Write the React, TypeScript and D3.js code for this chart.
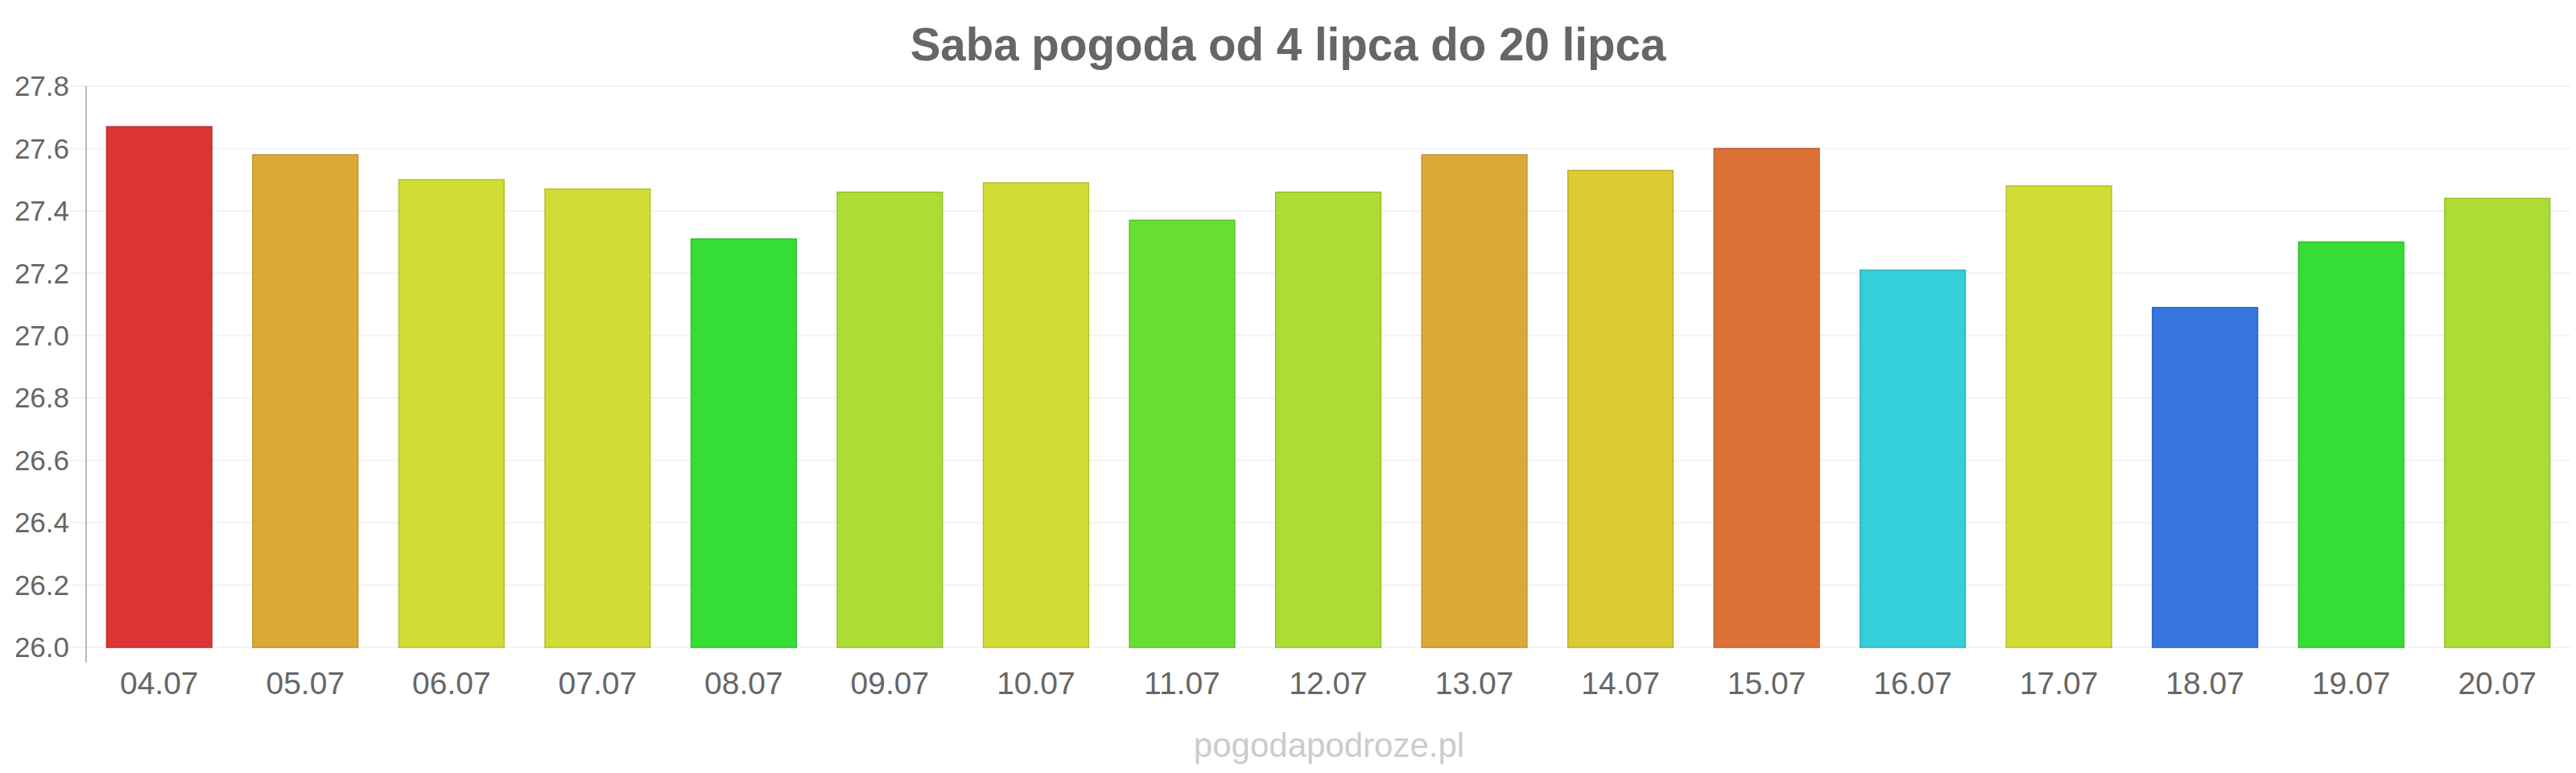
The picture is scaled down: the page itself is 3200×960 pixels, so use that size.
import React, { useEffect, useRef } from 'react';
import * as d3 from 'd3';

const days = ['04.07', '05.07', '06.07', '07.07', '08.07', '09.07', '10.07', '11.07', '12.07',
    '13.07', '14.07', '15.07', '16.07', '17.07', '18.07', '19.07', '20.07'];
const temps = [27.67, 27.58, 27.5, 27.47, 27.31, 27.46, 27.49, 27.37, 27.46,
    27.58, 27.53, 27.6, 27.21, 27.48, 27.09, 27.3, 27.44];
const barColors = ['#db3535', '#dba935', '#d1dd35', '#d1dd35', '#35dd35', '#addd35', '#d1dd35', '#6add35', '#addd35',
    '#dba935', '#dbcc35', '#dd7035', '#35cfd9', '#d1dd35', '#3575dd', '#35dd35', '#addd35'];
const yTicks = [26.0, 26.2, 26.4, 26.6, 26.8, 27.0, 27.2, 27.4, 27.6, 27.8];

const width = 3200;
const height = 960;

const App = () => {
    const svgRef = useRef(null);

    useEffect(() => {
        document.body.style.margin = '0';
        const svg = d3.select(svgRef.current);
        svg.selectAll('*').remove();

        const left = 107, right = 3193, top = 107, bottom = 804;

        const x = d3.scaleBand()
            .domain(days)
            .range([left, right])
            .paddingInner(0.28)
            .paddingOuter(0.14);

        const y = d3.scaleLinear()
            .domain([26, 27.8])
            .range([bottom, top]);

        // title
        svg.append('text')
            .attr('x', 1600)
            .attr('y', 75)
            .attr('text-anchor', 'middle')
            .style('font-family', '"Liberation Sans", Arial, sans-serif')
            .style('font-weight', 'bold')
            .style('font-size', '56.5px')
            .style('fill', '#666666')
            .text('Saba pogoda od 4 lipca do 20 lipca');

        // grid lines
        svg.append('g')
            .selectAll('line')
            .data(yTicks)
            .enter().append('line')
            .attr('x1', 87)
            .attr('x2', right)
            .attr('y1', d => y(d))
            .attr('y2', d => y(d))
            .style('stroke', '#f2f2f2')
            .style('stroke-width', '2px');

        // y labels
        svg.append('g')
            .selectAll('text')
            .data(yTicks)
            .enter().append('text')
            .attr('x', 86)
            .attr('y', d => y(d))
            .attr('dy', '0.35em')
            .attr('text-anchor', 'end')
            .style('font-family', '"Liberation Sans", Arial, sans-serif')
            .style('font-size', '35px')
            .style('fill', '#666666')
            .text(d => d.toFixed(1));

        // y axis line
        svg.append('line')
            .attr('x1', left)
            .attr('x2', left)
            .attr('y1', top)
            .attr('y2', 823)
            .style('stroke', '#bbbbbb')
            .style('stroke-width', '2px');

        // bars
        svg.append('g')
            .selectAll('rect')
            .data(temps)
            .enter().append('rect')
            .attr('x', (d, i) => x(days[i]))
            .attr('y', d => y(d))
            .attr('width', x.bandwidth())
            .attr('height', d => y(26) - y(d))
            .style('fill', (d, i) => barColors[i])
            .style('stroke', (d, i) => d3.color(barColors[i]).darker(0.4).toString())
            .style('stroke-width', '1.5px');

        // x labels
        svg.append('g')
            .selectAll('text')
            .data(days)
            .enter().append('text')
            .attr('x', d => x(d) + x.bandwidth() / 2)
            .attr('y', 862)
            .attr('text-anchor', 'middle')
            .style('font-family', '"Liberation Sans", Arial, sans-serif')
            .style('font-size', '39px')
            .style('fill', '#666666')
            .text(d => d);

        // watermark
        svg.append('text')
            .attr('x', 1651)
            .attr('y', 940)
            .attr('text-anchor', 'middle')
            .style('font-family', '"Liberation Sans", Arial, sans-serif')
            .style('font-size', '42px')
            .style('fill', '#cccccc')
            .text('pogodapodroze.pl');
    }, []);

    return (
        <svg ref={svgRef} width={width} height={height} style={{ display: 'block', background: '#ffffff' }}></svg>
    );
};

export default App;
